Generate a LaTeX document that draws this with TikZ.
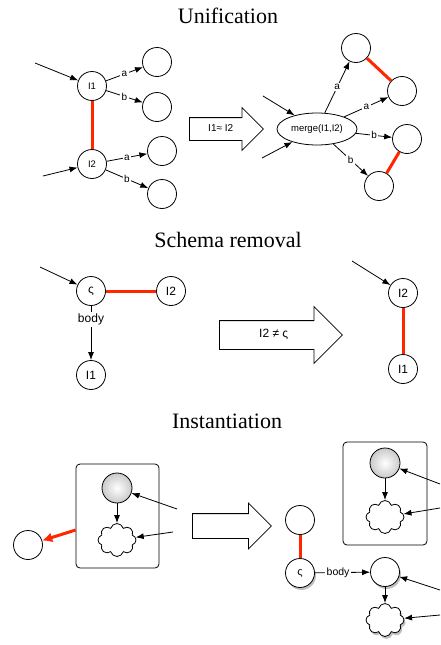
\documentclass[tikz,border=0pt]{standalone}
\usepackage{fontspec}
\setmainfont{Liberation Serif}
\setsansfont{Liberation Sans}
\usetikzlibrary{positioning}
\usetikzlibrary{arrows.meta}
\usetikzlibrary{shapes.geometric}
\usetikzlibrary{shapes.symbols}
\usetikzlibrary{shapes.arrows}
\usetikzlibrary{shadows}
\definecolor{linkred}{RGB}{255,38,0}

\begin{document}
\begin{tikzpicture}[x=1pt, y=-1pt, line width=0.8pt,
    vertex/.style={circle, draw=black, fill=white, minimum size=29pt, inner sep=0pt, font=\sffamily\fontsize{9.5}{9.5}\selectfont},
    lbl/.style={fill=white, inner sep=1.5pt, font=\sffamily\fontsize{10}{10}\selectfont},
    title/.style={font=\fontsize{22}{24}\selectfont},
    bigarrow/.style={single arrow, draw=black, fill=white, anchor=tail, text height=6.5pt, text depth=1.5pt, font=\sffamily\fontsize{10}{10}\selectfont},
    link/.style={draw=linkred, line width=3pt},
    arr/.style={-{Latex[length=8pt,width=6pt]}},
    ball/.style={circle, draw=black, minimum size=30pt, inner sep=0pt, inner color=white, outer color=gray!42},
    blob/.style={cloud, cloud puffs=8, cloud puff arc=150, draw=black, fill=white, minimum width=38pt, minimum height=33pt, inner sep=0pt},
    frame/.style={rectangle, rounded corners=4pt, draw=black, fill=white},
    shadowed/.style={drop shadow={shadow xshift=1.5pt, shadow yshift=-2.5pt, opacity=0.5}},
]
    \useasboundingbox (0,0) rectangle (440,645);

    % Unification
    \node[title] (T1) at (228,16) {Unification};

    \node[vertex] (I1) at (92,86) {I1};
    \node[vertex] (I2) at (92,164) {I2};
    \node[vertex] (UA1) at (157,62) {};
    \node[vertex] (UB1) at (157,107) {};
    \node[vertex] (UA2) at (162,151) {};
    \node[vertex] (UB2) at (162,194) {};
    \coordinate (in1) at (35,63);
    \coordinate (in2) at (43,176);

    \draw[link] (I1) -- (I2);
    \draw[arr] (in1) -- (I1);
    \draw[arr] (in2) -- (I2);
    \draw[arr] (I1) -- node[lbl] {a} (UA1);
    \draw[arr] (I1) -- node[lbl] {b} (UB1);
    \draw[arr] (I2) -- node[lbl] {a} (UA2);
    \draw[arr] (I2) -- node[lbl] {b} (UB2);

    \node[bigarrow, minimum height=74pt, inner ysep=7pt, single arrow head extend=10pt] (U) at (189,129) {I1≈ I2};

    \node[ellipse, draw=black, fill=white, minimum width=80pt, minimum height=32pt, inner sep=0pt, font=\sffamily\fontsize{9.5}{9.5}\selectfont] (M) at (317,129) {merge(I1,I2)};
    \node[vertex] (MA1) at (356,48) {};
    \node[vertex] (MA2) at (402,91) {};
    \node[vertex] (MB1) at (407,139) {};
    \node[vertex] (MB2) at (379,186) {};
    \coordinate (in3) at (263,96);
    \coordinate (in4) at (262,158);

    \draw[link] (MA1) -- (MA2);
    \draw[link] (MB1) -- (MB2);
    \draw[arr] (in3) -- (M);
    \draw[arr] (in4) -- (M);
    \draw[arr] (M) -- node[lbl] {a} (MA1);
    \draw[arr] (M) -- node[lbl] {a} (MA2);
    \draw[arr] (M) -- node[lbl] {b} (MB1);
    \draw[arr] (M) -- node[lbl] {b} (MB2);

    % Schema removal
    \node[title] (T2) at (228,240) {Schema removal};

    \node[vertex, font=\sffamily\fontsize{12}{12}\selectfont] (S) at (91,291) {ς};
    \node[vertex, font=\sffamily\fontsize{12}{12}\selectfont] (SI2) at (171,291) {I2};
    \node[vertex, font=\sffamily\fontsize{12}{12}\selectfont] (SI1) at (91,375) {I1};
    \coordinate (in5) at (40,267);

    \draw[link] (S) -- (SI2);
    \draw[arr] (in5) -- (S);
    \draw[arr] (S) -- node[lbl, pos=0.25, font=\sffamily\fontsize{12}{12}\selectfont] {body} (SI1);

    \node[bigarrow, minimum height=123pt, inner ysep=8pt, text height=8.5pt, text depth=3.5pt, single arrow head extend=14pt, font=\sffamily\fontsize{12}{12}\selectfont] (R) at (219,335) {I2 ≠ ς};

    \node[vertex, font=\sffamily\fontsize{12}{12}\selectfont] (RI2) at (403,293) {I2};
    \node[vertex, font=\sffamily\fontsize{12}{12}\selectfont] (RI1) at (403,369) {I1};
    \coordinate (in6) at (352,261);

    \draw[link] (RI2) -- (RI1);
    \draw[arr] (in6) -- (RI2);

    % Instantiation
    \node[title] (T3) at (227,421) {Instantiation};

    \node[frame, minimum width=83pt, minimum height=104pt] (F1) at (117.5,516) {};
    \node[ball] (G1) at (117,488) {};
    \node[blob] (C1) at (117,540) {};
    \node[vertex] (P) at (28,545) {};
    \coordinate (in7) at (177,509);
    \coordinate (in8) at (173,532);

    \draw[arr] (G1) -- (C1);
    \draw[arr] (in7) -- (G1);
    \draw[arr] (in8) -- (C1);
    \draw[link, -{Latex[length=10pt,width=10pt]}, linkred] ([yshift=-14pt]F1.west) -- (P);

    \node[bigarrow, minimum height=79pt, inner ysep=8pt, single arrow head extend=10.5pt] (N) at (192,526) {};

    \node[frame, minimum width=84pt, minimum height=103pt] (F2) at (385,493.5) {};
    \node[ball] (G2) at (385,463) {};
    \node[blob] (C2) at (385,517) {};
    \coordinate (in9) at (440,484);
    \coordinate (in10) at (440,508);

    \draw[arr] (G2) -- (C2);
    \draw[arr] (in9) -- (G2);
    \draw[arr] (in10) -- (C2);

    \node[vertex] (Q) at (300,520) {};
    \node[vertex, shadowed, font=\sffamily\fontsize{11}{11}\selectfont] (QS) at (300,573) {ς};
    \node[vertex, shadowed] (QB) at (385,572) {};
    \node[blob, shadowed] (QC) at (385,620) {};
    \coordinate (in11) at (440,590);
    \coordinate (in12) at (440,615);

    \draw[link] (Q) -- (QS);
    \draw[arr] (QS) -- node[lbl, pos=0.42, font=\sffamily\fontsize{10.5}{10.5}\selectfont] {body} (QB);
    \draw[arr] (QB) -- (QC);
    \draw[arr] (in11) -- (QB);
    \draw[arr] (in12) -- (QC);
\end{tikzpicture}
\end{document}
